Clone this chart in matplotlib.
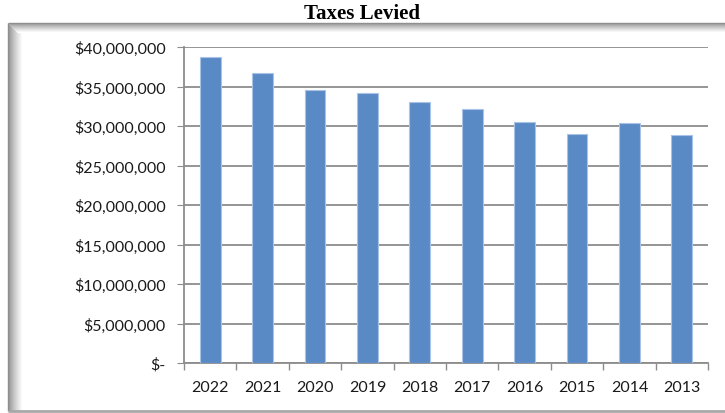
import matplotlib
matplotlib.use("Agg")
import matplotlib.pyplot as plt
import numpy as np
from matplotlib.ticker import FuncFormatter, FixedLocator

# Annual tax levy, newest year first
years = ["2022", "2021", "2020", "2019", "2018", "2017", "2016", "2015", "2014", "2013"]
taxes_levied = [38_750_000, 36_700_000, 34_550_000, 34_200_000, 33_100_000,
                32_100_000, 30_550_000, 28_950_000, 30_350_000, 28_800_000]
y_ticks = [0, 5_000_000, 10_000_000, 15_000_000, 20_000_000,
           25_000_000, 30_000_000, 35_000_000, 40_000_000]
title = "Taxes Levied"

W, H = 725, 414
fig = plt.figure(figsize=(W / 100, H / 100), dpi=100)
fig.patch.set_facecolor("white")

# Framed chart border with a soft inner shadow on the left and top
frame = fig.add_axes([0, 0, 1, 1], zorder=0)
frame.set_xlim(0, W)
frame.set_ylim(H, 0)
frame.axis("off")
for i in range(15):
    g = 0.55 + 0.45 * (i / 14) ** 0.8
    frame.plot([8 + i, 8 + i], [24 + min(i, 9), 412], color=(g, g, g), lw=1.0,
               solid_capstyle="butt")
for i in range(10):
    g = 0.55 + 0.45 * (i / 9) ** 0.8
    frame.plot([8 + i, W], [24 + i, 24 + i], color=(g, g, g), lw=1.0,
               solid_capstyle="butt")
frame.plot([8, W], [412.5, 412.5], color="#a8a8a8", lw=2.0, solid_capstyle="butt")

fig.text(362 / W, 1 - 14 / H, title, ha="center", va="center",
         fontfamily="Liberation Serif", fontweight="bold", fontsize=15)

left, right, top, bottom = 184, 708, 48, 364
ax = fig.add_axes([left / W, 1 - bottom / H, (right - left) / W, (bottom - top) / H],
                  zorder=2)
ax.patch.set_alpha(0)

x = np.arange(len(years))
ax.bar(x, taxes_levied, width=0.4, color="#5a8ac6", edgecolor="#a9c3e6",
       linewidth=0.8, zorder=3)

ax.set_xlim(-0.5, len(years) - 0.5)
ax.set_ylim(0, 40_000_000)

grid_col = "#8c8c8c"
ax.set_yticks(y_ticks)
ax.yaxis.set_major_formatter(FuncFormatter(lambda v, p: "$-" if v == 0 else f"${v:,.0f}"))
ax.grid(axis="y", color=grid_col, lw=1.3, zorder=1)
ax.set_axisbelow(True)

ax.set_xticks(x)
ax.set_xticklabels(years)
ax.xaxis.set_minor_locator(FixedLocator(np.arange(-0.5, len(years), 1.0)))

for s in ("top", "right"):
    ax.spines[s].set_visible(False)
for s in ("left", "bottom"):
    ax.spines[s].set_color(grid_col)
    ax.spines[s].set_linewidth(1.3)

ax.tick_params(axis="y", which="major", length=5, color=grid_col, pad=8,
               labelsize=11.5, labelcolor="#1a1a1a")
ax.tick_params(axis="x", which="major", length=0, pad=12, labelsize=11.5,
               labelcolor="#1a1a1a")
ax.tick_params(axis="x", which="minor", length=5, color=grid_col, width=1.0)
for lbl in ax.get_yticklabels() + ax.get_xticklabels():
    lbl.set_fontfamily("Lato")

fig.savefig("out.png", dpi=100, facecolor="white")
